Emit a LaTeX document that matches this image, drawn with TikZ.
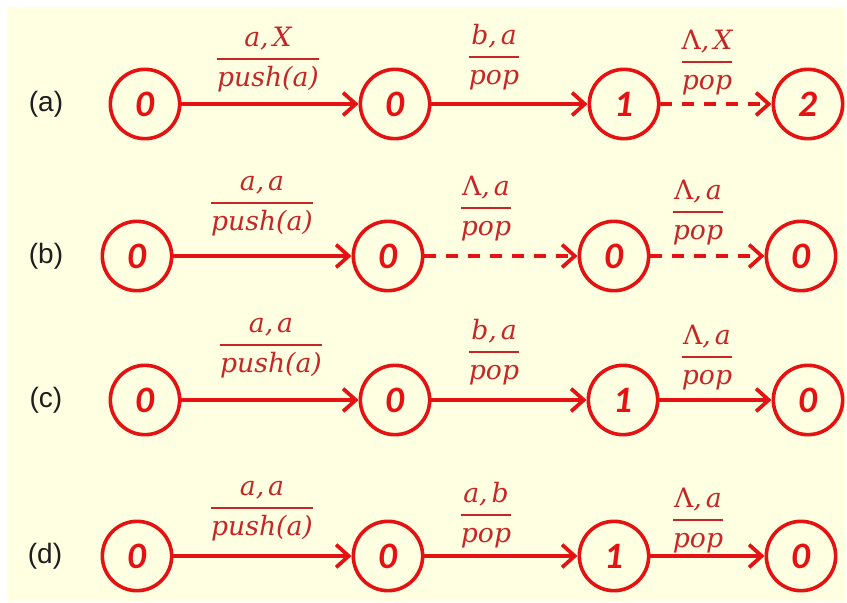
\documentclass[tikz,border=0pt]{standalone}
\usepackage{fontspec}
\setmainfont{Liberation Sans}
\newfontfamily\lblfont{DejaVu Serif}
\newfontfamily\numfont{Carlito}
\usetikzlibrary{arrows.meta}
\definecolor{bgc}{RGB}{255,255,226}
\definecolor{edgered}{RGB}{228,18,18}
\definecolor{txtred}{RGB}{198,38,38}
\definecolor{tagc}{RGB}{30,30,30}
\setlength{\arrayrulewidth}{1.5pt}
\newcommand\frc[2]{\begin{tabular}{@{}c@{}}#1\\[2pt]\hline\rule{0pt}{20pt}#2\end{tabular}}
\tikzset{
  state/.style={circle, draw=edgered, line width=2.7pt, minimum size=52pt, inner sep=0pt,
    font=\numfont\bfseries\itshape\fontsize{28}{28}\selectfont, text=edgered},
  tr/.style={draw=edgered, line width=3.2pt,
    -{Straight Barb[length=9.5pt,width=17pt,line width=2.8pt]}},
  trd/.style={tr, dash pattern=on 9pt off 7.5pt},
  lbl/.style={text=txtred, font=\lblfont\itshape\fontsize{20}{22}\selectfont, inner sep=0pt},
  tag/.style={text=tagc, font=\fontsize{21}{24}\selectfont, inner sep=0pt},
}
\begin{document}
\begin{tikzpicture}[x=0.75pt,y=-0.75pt]
\useasboundingbox (0,0) rectangle (847,603);
\fill[white] (0,0) rectangle (847,603);
\fill[bgc] (7,7) rectangle (845,601);

% row a
\node[tag] (ta) at (46,104) {(a)};
\node[state] (a1) at (145,104) {0};
\node[state] (a2) at (395,104) {0};
\node[state] (a3) at (624,104) {1};
\node[state] (a4) at (808,104) {2};
\draw[tr] (a1) -- (a2);
\draw[tr] (a2) -- (a3);
\draw[trd] (a3) -- (a4);
\node[lbl] (la1) at (268,61) {\frc{a,\kern3pt X}{push(a)}};
\node[lbl] (la2) at (494,59) {\frc{b,\kern3pt a}{pop}};
\node[lbl] (la3) at (707,64) {\frc{{\upshape Λ},\kern3pt X}{pop}};

% row b
\node[tag] (tb) at (46,256) {(b)};
\node[state] (b1) at (137,256) {0};
\node[state] (b2) at (388,256) {0};
\node[state] (b3) at (614,256) {0};
\node[state] (b4) at (801,256) {0};
\draw[tr] (b1) -- (b2);
\draw[trd] (b2) -- (b3);
\draw[trd] (b3) -- (b4);
\node[lbl] (lb1) at (262,205) {\frc{a,\kern3pt a}{push(a)}};
\node[lbl] (lb2) at (486,210) {\frc{{\upshape Λ},\kern3pt a}{pop}};
\node[lbl] (lb3) at (698,214) {\frc{{\upshape Λ},\kern3pt a}{pop}};

% row c
\node[tag] (tc) at (46,400) {(c)};
\node[state] (c1) at (145,400) {0};
\node[state] (c2) at (395,400) {0};
\node[state] (c3) at (623,400) {1};
\node[state] (c4) at (808,400) {0};
\draw[tr] (c1) -- (c2);
\draw[tr] (c2) -- (c3);
\draw[tr] (c3) -- (c4);
\node[lbl] (lc1) at (271,347) {\frc{a,\kern3pt a}{push(a)}};
\node[lbl] (lc2) at (494,354) {\frc{b,\kern3pt a}{pop}};
\node[lbl] (lc3) at (707,359) {\frc{{\upshape Λ},\kern3pt a}{pop}};

% row d
\node[tag] (td) at (45,556) {(d)};
\node[state] (d1) at (137,556) {0};
\node[state] (d2) at (388,556) {0};
\node[state] (d3) at (614,556) {1};
\node[state] (d4) at (801,556) {0};
\draw[tr] (d1) -- (d2);
\draw[tr] (d2) -- (d3);
\draw[tr] (d3) -- (d4);
\node[lbl] (ld1) at (262,510) {\frc{a,\kern3pt a}{push(a)}};
\node[lbl] (ld2) at (486,517) {\frc{a,\kern3pt b}{pop}};
\node[lbl] (ld3) at (698,522) {\frc{{\upshape Λ},\kern3pt a}{pop}};
\end{tikzpicture}
\end{document}
